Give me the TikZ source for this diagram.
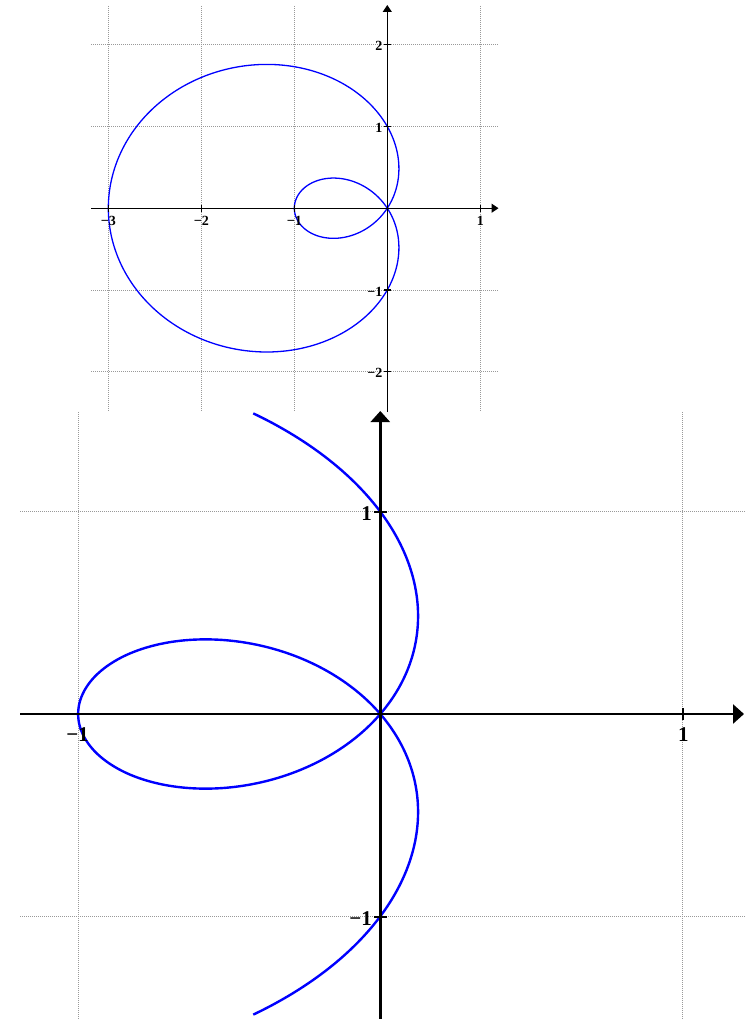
\documentclass[tikz,border=0pt]{standalone}
\usepackage{fontspec}
\setmainfont{Liberation Serif}
\usetikzlibrary{arrows.meta}
\tikzset{
  gridline/.style={gray!80, line width=0.8pt, dash pattern=on 1pt off 1pt},
  curvetop/.style={blue, line width=1.3pt},
  curvebot/.style={blue, line width=2.4pt},
  axistop/.style={black, line width=1.4pt, -{Triangle[length=7pt,width=9pt]}},
  axisbot/.style={black, line width=2.6pt, -{Triangle[length=11pt,width=19pt]}},
  ticktop/.style={black, line width=1.2pt},
  tickbot/.style={black, line width=2.2pt},
  labtop/.style={inner sep=0pt, font=\fontsize{14}{14}\selectfont\bfseries},
  labbot/.style={inner sep=0pt, font=\fontsize{21}{21}\selectfont\bfseries}
}
\begin{document}
\begin{tikzpicture}[x=1pt,y=-1pt]
\useasboundingbox[fill=white] (0,0) rectangle (755,1019);
% ---------- top plot: origin (387.3,208.2), units 93 x 81.7 ----------
% grid
\foreach \gx in {-3,-2,-1,1}
  \draw[gridline] ({387.3+93*\gx},6) -- ({387.3+93*\gx},411.7);
\foreach \gy in {-2,-1,1,2}
  \draw[gridline] (91,{208.2-81.7*\gy}) -- (497.7,{208.2-81.7*\gy});
% curve
\draw[curvetop] plot[domain=0:360, samples=240, smooth, variable=\t]
  ({387.3+93*(1-2*cos(\t))*cos(\t)}, {208.2-81.7*(1-2*cos(\t))*sin(\t)});
% axes
\coordinate (txl) at (91,208.2);
\coordinate (txr) at (498.5,208.2);
\coordinate (tyb) at (387.3,412);
\coordinate (tyt) at (387.3,5);
\draw[axistop] (txl) -- (txr);
\draw[axistop] (tyb) -- (tyt);
% ticks and labels
\foreach \gx/\lab in {-3/−3,-2/−2,-1/−1,1/1}{
  \draw[ticktop] ({387.3+93*\gx},205) -- ({387.3+93*\gx},211.5);
  \node[labtop, anchor=north] (tx\gx) at ({387.3+93*\gx},216.5) {\lab};
}
\foreach \gy/\lab in {-2/−2,-1/−1,1/1,2/2}{
  \draw[ticktop] (384,{208.2-81.7*\gy}) -- (391,{208.2-81.7*\gy});
  \node[labtop, anchor=east] (ty\gy) at (382.5,{209.7-81.7*\gy}) {\lab};
}
% ---------- bottom plot: origin (380.3,714), units 302.2 x 202.3 ----------
\foreach \gx in {-1,1}
  \draw[gridline] ({380.3+302.2*\gx},412) -- ({380.3+302.2*\gx},1019);
\foreach \gy in {-1,1}
  \draw[gridline] (20,{714-202.3*\gy}) -- (745,{714-202.3*\gy});
\draw[curvebot] plot[domain=-105.8:105.8, samples=240, smooth, variable=\t]
  ({380.3+302.2*(1-2*cos(\t))*cos(\t)}, {714-202.3*(1-2*cos(\t))*sin(\t)});
\coordinate (bxl) at (20,714);
\coordinate (bxr) at (744,714);
\coordinate (byb) at (380.3,1019);
\coordinate (byt) at (380.3,411);
\draw[axisbot] (bxl) -- (bxr);
\draw[axisbot] (byb) -- (byt);
\draw[tickbot] (683.3,708) -- (683.3,720);
\draw[tickbot] (374,511.7) -- (387,511.7);
\draw[tickbot] (374,916.7) -- (387,916.7);
\node[labbot, anchor=north] (bxm1) at (77.5,727) {−1};
\node[labbot, anchor=north] (bx1) at (683.3,727) {1};
\node[labbot, anchor=east] (by1) at (372,513.5) {1};
\node[labbot, anchor=east] (bym1) at (372,919) {−1};
\end{tikzpicture}
\end{document}
